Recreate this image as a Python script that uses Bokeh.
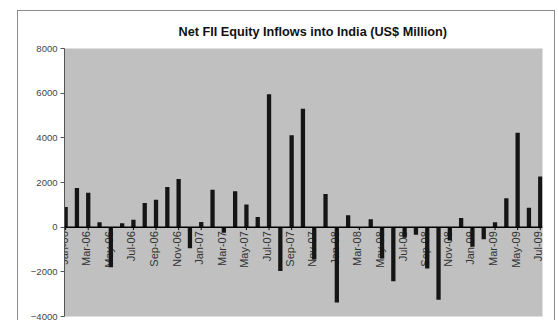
import math
from bokeh.plotting import figure
from bokeh.models import Range1d, FixedTicker, Span, ColumnDataSource, LabelSet
from bokeh.core.properties import value
from bokeh.embed import file_html
from bokeh.resources import INLINE

months = ["Jan-06", "Feb-06", "Mar-06", "Apr-06", "May-06", "Jun-06", "Jul-06", "Aug-06",
          "Sep-06", "Oct-06", "Nov-06", "Dec-06", "Jan-07", "Feb-07", "Mar-07", "Apr-07",
          "May-07", "Jun-07", "Jul-07", "Aug-07", "Sep-07", "Oct-07", "Nov-07", "Dec-07",
          "Jan-08", "Feb-08", "Mar-08", "Apr-08", "May-08", "Jun-08", "Jul-08", "Aug-08",
          "Sep-08", "Oct-08", "Nov-08", "Dec-08", "Jan-09", "Feb-09", "Mar-09", "Apr-09",
          "May-09", "Jun-09", "Jul-09"]
inflows = [900, 1750, 1540, 220, -1800, 170, 330, 1080, 1230, 1800, 2160, -940,
           230, 1670, -250, 1610, 1010, 460, 5950, -1960, 4120, 5300, -1450, 1480,
           -3370, 530, -50, 360, -1400, -2420, -470, -340, -1850, -3250, -600, 410,
           -880, -540, 220, 1300, 4230, 870, 2270]
y_ticks = [-4000, -2000, 0, 2000, 4000, 6000, 8000]
title_text = "Net FII  Equity Inflows into India (US$ Million)"

idx = list(range(len(months)))
src = ColumnDataSource(dict(x=idx, top=inflows))
lab_idx = idx[::2]
lab_src = ColumnDataSource(dict(x=lab_idx, y=[0] * len(lab_idx), text=[months[i] for i in lab_idx]))

p = figure(width=538, height=310, output_backend="svg", toolbar_location=None,
           x_range=Range1d(-0.1, len(months) - 1 + 0.2), y_range=Range1d(y_ticks[0], y_ticks[-1]),
           min_border_left=46, min_border_right=14, min_border_top=37, min_border_bottom=5,
           margin=(10, 0, 0, 17),
           styles={"border-top": "1px solid #8c8c8c", "border-left": "1px solid #8c8c8c",
                   "border-right": "1px solid #8c8c8c"})
p.background_fill_color = "#c0c0c0"
p.border_fill_color = "white"
p.outline_line_color = None
p.grid.visible = False

p.title.text = title_text
p.title.text_font = "Liberation Sans"
p.title.text_font_size = "12.7px"
p.title.text_font_style = "bold"
p.title.text_color = "#111111"
p.title.align = "left"
p.title.offset = 114
p.title.standoff = 19

p.xaxis.visible = False
ya = p.yaxis[0]
ya.ticker = FixedTicker(ticks=y_ticks)
ya.minor_tick_line_color = None
ya.major_tick_in = 0
ya.major_tick_out = 4
ya.axis_line_color = "#555555"
ya.major_tick_line_color = "#555555"
ya.major_label_text_font = "Liberation Sans"
ya.major_label_text_font_size = "9.5px"
ya.major_label_text_color = "#444444"
ya.major_label_standoff = 3

labels = LabelSet(x="x", y="y", text="text", source=lab_src, angle=math.pi / 2, text_align="right",
                  text_baseline="middle", x_offset=-2, y_offset=-4,
                  text_font=value("Liberation Sans"), text_font_size=value("11px"),
                  text_color="#333333", level="underlay")
p.add_layout(labels)

p.vbar(x="x", top="top", bottom=0, width=0.38, source=src, fill_color="#151515", line_color=None)

p.add_layout(Span(location=0, dimension="width", line_color="black", line_width=1.5))
p.segment(x0="x", y0="y", x1="x", y1=-130, source=lab_src, line_color="black", line_width=1)

open("out.html", "w").write(file_html(p, INLINE))
